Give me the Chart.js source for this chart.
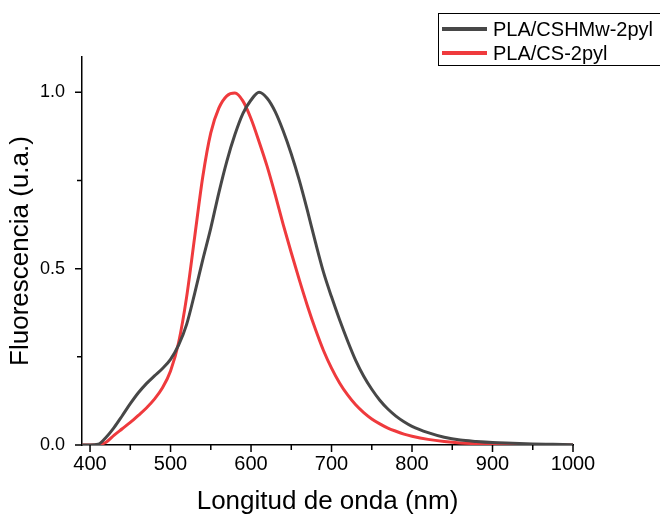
<!DOCTYPE html>
<html>
<head>
<meta charset="utf-8">
<script src="https://cdn.jsdelivr.net/npm/chart.js@4/dist/chart.umd.min.js"></script>
<style>
  body { margin: 0; background: #fff; }
  #wrap { position: relative; width: 660px; height: 517px; overflow: hidden; }
  #legend {
    position: absolute; left: 438px; top: 13px; width: 240px; height: 53px;
    border: 1.5px solid #000; box-sizing: border-box;
    font-family: Arial, 'Liberation Sans', sans-serif; font-size: 20px; color: #000;
  }
  .item { position: absolute; left: 0; height: 24px; line-height: 24px; white-space: nowrap; }
  .swatch { position: absolute; left: 3px; top: 10px; width: 45px; height: 4px; }
  .label { position: absolute; left: 54px; top: 0; }
</style>
</head>
<body>
<div id="wrap">
  <canvas id="chart" width="660" height="517"></canvas>
  <div id="legend"></div>
</div>
<script>
const canvas = document.getElementById('chart');
const legendEl = document.getElementById('legend');

const wavelengths = [390, 400, 410, 420, 430, 440, 450, 460, 470, 480, 490, 500, 510, 520, 530, 540, 550, 560, 570, 580, 590, 600, 610, 620, 630, 640, 650, 660, 670, 680, 690, 700, 710, 720, 730, 740, 750, 760, 770, 780, 790, 800, 820, 840, 860, 880, 900, 925, 950, 975, 1000];

const cshmwValues = [0, 0, 0.002, 0.022, 0.05, 0.083, 0.117, 0.148, 0.174, 0.196, 0.217, 0.243, 0.283, 0.342, 0.43, 0.525, 0.615, 0.715, 0.805, 0.88, 0.94, 0.978, 1.0, 0.983, 0.945, 0.89, 0.825, 0.75, 0.665, 0.575, 0.49, 0.42, 0.355, 0.295, 0.24, 0.195, 0.158, 0.127, 0.102, 0.082, 0.066, 0.053, 0.035, 0.022, 0.014, 0.01, 0.007, 0.005, 0.003, 0.002, 0.001];

const csValues = [0, 0, 0.001, 0.008, 0.028, 0.046, 0.064, 0.084, 0.105, 0.13, 0.162, 0.21, 0.29, 0.42, 0.59, 0.76, 0.885, 0.955, 0.99, 0.998, 0.975, 0.925, 0.86, 0.79, 0.71, 0.625, 0.545, 0.468, 0.395, 0.328, 0.268, 0.218, 0.176, 0.142, 0.114, 0.092, 0.074, 0.06, 0.048, 0.039, 0.031, 0.025, 0.016, 0.01, 0.006, 0.004, 0.002, 0.001, 0, 0, 0];

const seriesNames = ['PLA/CSHMw-2pyl', 'PLA/CS-2pyl'];
const seriesColors = ['#474747', '#ef3a3d'];

const xTickValues = [400, 450, 500, 550, 600, 650, 700, 750, 800, 850, 900, 950, 1000];
const xTickLabels = ['400', '', '500', '', '600', '', '700', '', '800', '', '900', '', '1000'];
const yTickValues = [0, 0.25, 0.5, 0.75, 1.0];
const yTickLabels = ['0.0', '', '0.5', '', '1.0'];

function toPoints(values) {
  return wavelengths.map((w, i) => ({ x: w, y: values[i] }));
}

// outward ticks, long for labelled ones, short for minor ones
const tickMarks = {
  id: 'tickMarks',
  afterDraw(chart) {
    const ctx = chart.ctx;
    const area = chart.chartArea;
    const xs = chart.scales.x;
    const ys = chart.scales.y;
    ctx.save();
    ctx.strokeStyle = '#000';
    ctx.lineWidth = 1.5;
    ctx.beginPath();
    xTickValues.forEach((v, i) => {
      const px = xs.getPixelForValue(v);
      const len = xTickLabels[i] ? 7 : 5;
      ctx.moveTo(px, area.bottom);
      ctx.lineTo(px, area.bottom + len);
    });
    yTickValues.forEach((v, i) => {
      const py = ys.getPixelForValue(v);
      const len = yTickLabels[i] ? 7 : 5;
      ctx.moveTo(area.left, py);
      ctx.lineTo(area.left - len, py);
    });
    ctx.stroke();
    ctx.restore();
  }
};

const fontFamily = "Arial, 'Liberation Sans', sans-serif";

new Chart(canvas, {
  type: 'line',
  data: {
    datasets: [
      {
        label: seriesNames[0],
        data: toPoints(cshmwValues),
        borderColor: seriesColors[0],
        borderWidth: 3,
        pointRadius: 0,
        cubicInterpolationMode: 'monotone',
      },
      {
        label: seriesNames[1],
        data: toPoints(csValues),
        borderColor: seriesColors[1],
        borderWidth: 3,
        pointRadius: 0,
        cubicInterpolationMode: 'monotone',
      },
    ],
  },
  options: {
    responsive: false,
    animation: false,
    layout: { padding: { left: 0, right: 87, top: 57, bottom: 0 } },
    plugins: {
      legend: { display: false },
      tooltip: { enabled: false },
    },
    scales: {
      x: {
        type: 'linear',
        min: 390,
        max: 1000,
        afterBuildTicks: scale => {
          scale.ticks = xTickValues.map(v => ({ value: v }));
        },
        afterFit: scale => {
          scale.height = 72;
        },
        ticks: {
          autoSkip: false,
          maxRotation: 0,
          padding: 7,
          color: '#000',
          font: { family: fontFamily, size: 20 },
          callback: (value, index) => xTickLabels[index],
        },
        grid: { display: true, drawOnChartArea: false, drawTicks: false },
        border: { display: true, color: '#000', width: 1.5 },
        title: {
          display: true,
          text: 'Longitud de onda (nm)',
          color: '#000',
          font: { family: fontFamily, size: 26 },
          padding: 0,
        },
      },
      y: {
        type: 'linear',
        min: 0,
        max: 1.1,
        afterBuildTicks: scale => {
          scale.ticks = yTickValues.map(v => ({ value: v }));
        },
        afterFit: scale => {
          scale.width = 82;
        },
        ticks: {
          autoSkip: false,
          padding: 17,
          color: '#000',
          font: { family: fontFamily, size: 18 },
          callback: (value, index) => yTickLabels[index],
        },
        grid: { display: true, drawOnChartArea: false, drawTicks: false },
        border: { display: true, color: '#000', width: 1.5 },
        title: {
          display: true,
          text: 'Fluorescencia (u.a.)',
          color: '#000',
          font: { family: fontFamily, size: 26 },
          padding: { top: 5, bottom: 0 },
        },
      },
    },
  },
  plugins: [tickMarks],
});

legendEl.innerHTML = seriesNames
  .map((name, i) =>
    `<div class="item" style="top:${3 + i * 24}px">` +
    `<div class="swatch" style="background:${seriesColors[i]}"></div>` +
    `<div class="label">${name}</div></div>`)
  .join('');
</script>
</body>
</html>
